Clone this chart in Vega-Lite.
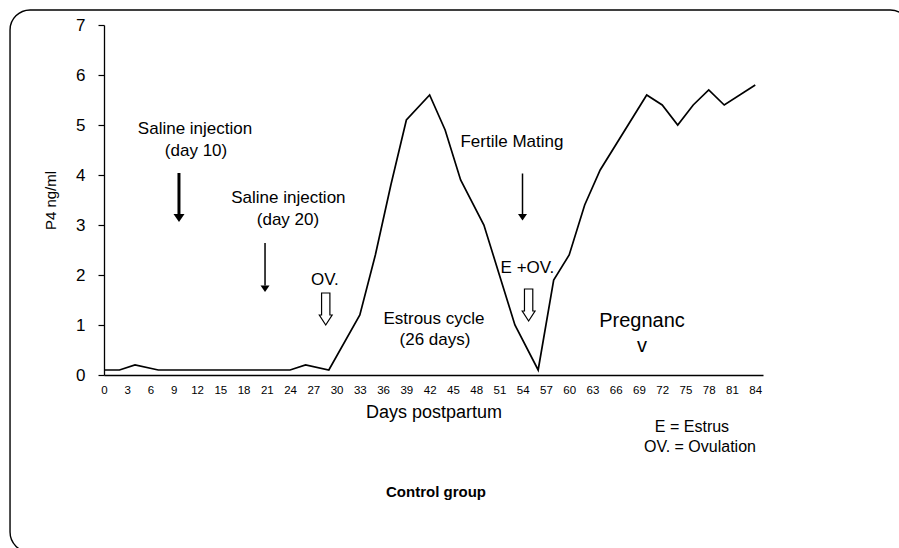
{
  "$schema": "https://vega.github.io/schema/vega-lite/v6.json",
  "width": 659,
  "height": 350,
  "autosize": {"type": "none"},
  "padding": {"left": 104, "top": 25, "right": 136, "bottom": 173},
  "background": "white",
  "config": {
    "view": {"stroke": null},
    "font": "Liberation Sans",
    "axis": {"grid": false, "domainColor": "black", "tickColor": "black", "labelColor": "black", "titleColor": "black", "labelFont": "Liberation Sans", "titleFont": "Liberation Sans", "titleFontWeight": "normal"}
  },
  "datasets": {
    "p4": [
      {"day": 0, "p4": 0.1}, {"day": 2, "p4": 0.1}, {"day": 4, "p4": 0.2}, {"day": 7, "p4": 0.1},
      {"day": 24, "p4": 0.1}, {"day": 26, "p4": 0.2}, {"day": 29, "p4": 0.1}, {"day": 33, "p4": 1.2},
      {"day": 35, "p4": 2.4}, {"day": 37, "p4": 3.8}, {"day": 39, "p4": 5.1}, {"day": 42, "p4": 5.6},
      {"day": 44, "p4": 4.9}, {"day": 46, "p4": 3.9}, {"day": 49, "p4": 3.0}, {"day": 51, "p4": 2.0},
      {"day": 53, "p4": 1.0}, {"day": 56, "p4": 0.1}, {"day": 58, "p4": 1.9}, {"day": 60, "p4": 2.4},
      {"day": 62, "p4": 3.4}, {"day": 64, "p4": 4.1}, {"day": 70, "p4": 5.6}, {"day": 72, "p4": 5.4},
      {"day": 74, "p4": 5.0}, {"day": 76, "p4": 5.4}, {"day": 78, "p4": 5.7}, {"day": 80, "p4": 5.4},
      {"day": 84, "p4": 5.8}
    ],
    "notes": [
      {"label": "Saline injection", "day": 11.74, "p4": 4.93, "style": "note"},
      {"label": "(day 10)", "day": 11.87, "p4": 4.48, "style": "note"},
      {"label": "Saline injection", "day": 23.78, "p4": 3.54, "style": "note"},
      {"label": "(day 20)", "day": 23.73, "p4": 3.10, "style": "note"},
      {"label": "OV.", "day": 28.5, "p4": 1.9, "style": "note"},
      {"label": "Estrous cycle", "day": 42.56, "p4": 1.12, "style": "note"},
      {"label": "(26 days)", "day": 42.69, "p4": 0.70, "style": "note"},
      {"label": "Fertile Mating", "day": 52.62, "p4": 4.67, "style": "note"},
      {"label": "E +OV.", "day": 54.62, "p4": 2.15, "style": "note"},
      {"label": "Pregnanc", "day": 69.4, "p4": 1.08, "style": "big"},
      {"label": "v", "day": 69.4, "p4": 0.58, "style": "big"},
      {"label": "E = Estrus", "day": 75.84, "p4": -1.04, "style": "legend"},
      {"label": "OV. = Ovulation", "day": 76.87, "p4": -1.44, "style": "legend"},
      {"label": "Control group", "day": 42.82, "p4": -2.34, "style": "caption"}
    ],
    "arrows": [
      {"name": "day10", "day": 9.67, "p4": 4.04, "p4end": 3.22, "weight": "thick"},
      {"name": "day20", "day": 20.77, "p4": 2.64, "p4end": 1.79, "weight": "thin"},
      {"name": "mating", "day": 53.98, "p4": 4.03, "p4end": 3.22, "weight": "thin"}
    ],
    "hollow": [
      {"name": "OV", "day": 28.6, "p4": 1.32},
      {"name": "E+OV", "day": 54.77, "p4": 1.40}
    ],
    "frame": [
      {"day": -12.12, "day2": 104.0, "p4": 7.3, "p42": -3.54}
    ]
  },
  "encoding": {
    "x": {
      "field": "day", "type": "quantitative",
      "scale": {"domain": [0, 85], "nice": false, "zero": false},
      "axis": {
        "values": [0, 3, 6, 9, 12, 15, 18, 21, 24, 27, 30, 33, 36, 39, 42, 45, 48, 51, 54, 57, 60, 63, 66, 69, 72, 75, 78, 81, 84],
        "ticks": false, "tickSize": 0, "labelPadding": 9, "labelFontSize": 11.5, "labelAngle": 0,
        "labelFlush": false, "labelOverlap": false, "domainWidth": 1.3,
        "title": "Days postpartum", "titleFontSize": 18, "titlePadding": 8
      }
    },
    "y": {
      "field": "p4", "type": "quantitative",
      "scale": {"domain": [0, 7], "nice": false, "zero": false},
      "axis": {
        "values": [0, 1, 2, 3, 4, 5, 6, 7], "tickSize": 6, "labelPadding": 13, "labelFontSize": 17,
        "domainWidth": 1.3, "tickWidth": 1.2, "labelFlush": false,
        "title": "P4 ng/ml", "titleFontSize": 15, "titlePadding": 17
      }
    }
  },
  "layer": [
    {
      "data": {"name": "frame"},
      "mark": {"type": "rect", "cornerRadius": 20, "fill": "transparent", "stroke": "black", "strokeWidth": 1.4},
      "encoding": {"x2": {"field": "day2"}, "y2": {"field": "p42"}}
    },
    {
      "data": {"name": "p4"},
      "mark": {"type": "line", "color": "black", "strokeWidth": 1.7}
    },
    {
      "data": {"name": "arrows"},
      "transform": [{"filter": "datum.weight == 'thick'"}],
      "mark": {"type": "rule", "color": "black", "strokeWidth": 3},
      "encoding": {"y2": {"field": "p4end"}}
    },
    {
      "data": {"name": "arrows"},
      "transform": [{"filter": "datum.weight == 'thin'"}],
      "mark": {"type": "rule", "color": "black", "strokeWidth": 1.5},
      "encoding": {"y2": {"field": "p4end"}}
    },
    {
      "data": {"name": "arrows"},
      "transform": [{"filter": "datum.weight == 'thick'"}],
      "mark": {"type": "point", "shape": "M -1 0 L 1 0 L 0 1.45 Z", "filled": true, "color": "black", "opacity": 1, "size": 121, "strokeWidth": 0},
      "encoding": {"y": {"field": "p4end", "type": "quantitative"}}
    },
    {
      "data": {"name": "arrows"},
      "transform": [{"filter": "datum.weight == 'thin'"}],
      "mark": {"type": "point", "shape": "M -1 0 L 1 0 L 0 1.45 Z", "filled": true, "color": "black", "opacity": 1, "size": 81, "strokeWidth": 0},
      "encoding": {"y": {"field": "p4end", "type": "quantitative"}}
    },
    {
      "data": {"name": "hollow"},
      "mark": {"type": "point", "shape": "M -0.26 -1 L 0.26 -1 L 0.26 0.375 L 0.4 0.375 L 0 1 L -0.4 0.375 L -0.26 0.375 Z", "filled": false, "stroke": "black", "strokeWidth": 1.2, "opacity": 1, "size": 1024}
    },
    {
      "data": {"name": "notes"},
      "transform": [{"filter": "datum.style == 'note'"}],
      "mark": {"type": "text", "align": "center", "baseline": "middle", "fontSize": 17, "color": "black"},
      "encoding": {"text": {"field": "label"}}
    },
    {
      "data": {"name": "notes"},
      "transform": [{"filter": "datum.style == 'legend'"}],
      "mark": {"type": "text", "align": "center", "baseline": "middle", "fontSize": 16, "color": "black"},
      "encoding": {"text": {"field": "label"}}
    },
    {
      "data": {"name": "notes"},
      "transform": [{"filter": "datum.style == 'big'"}],
      "mark": {"type": "text", "align": "center", "baseline": "middle", "fontSize": 20, "color": "black"},
      "encoding": {"text": {"field": "label"}}
    },
    {
      "data": {"name": "notes"},
      "transform": [{"filter": "datum.style == 'caption'"}],
      "mark": {"type": "text", "align": "center", "baseline": "middle", "fontSize": 15, "fontWeight": "bold", "color": "black"},
      "encoding": {"text": {"field": "label"}}
    }
  ]
}
